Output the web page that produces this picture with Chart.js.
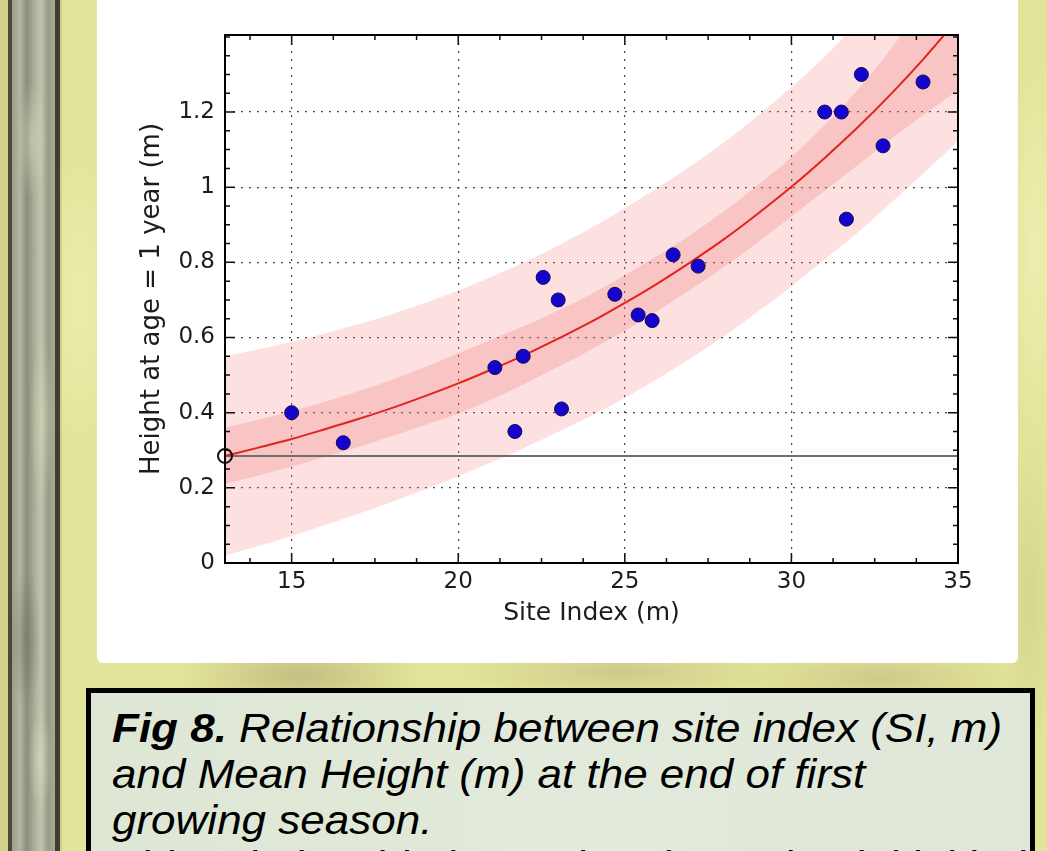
<!DOCTYPE html>
<html lang="en">
<head>
<meta charset="UTF-8">
<title>Fig 8 - Site index vs height</title>
<script src="https://cdn.jsdelivr.net/npm/chart.js"></script>
<style>
  html, body { margin: 0; padding: 0; }
  body {
    width: 1047px; height: 851px; overflow: hidden; position: relative;
    background: #e2e49a;
    font-family: "Liberation Sans", Arial, sans-serif;
  }
  .bg {
    position: absolute; left: 0; top: 0; width: 1047px; height: 851px;
    background:
      radial-gradient(ellipse 120px 40px at 300px 675px, rgba(170,160,110,0.55), transparent),
      radial-gradient(ellipse 160px 30px at 620px 672px, rgba(180,170,120,0.45), transparent),
      radial-gradient(ellipse 140px 35px at 880px 678px, rgba(175,165,115,0.4), transparent),
      radial-gradient(ellipse 40px 160px at 80px 300px, rgba(240,240,180,0.7), transparent),
      radial-gradient(ellipse 30px 200px at 1035px 250px, rgba(245,245,190,0.6), transparent),
      radial-gradient(ellipse 30px 160px at 1030px 600px, rgba(200,200,130,0.5), transparent),
      #e2e49a;
  }
  .bark {
    position: absolute; left: 0; top: 0; width: 62px; height: 851px;
    background:
      linear-gradient(90deg, #d2d28c 0, #d2d28c 8px, #4a4a3c 8px, #4a4a3c 12px, transparent 12px, transparent 55px, #3e3e32 55px, #3e3e32 60px, #cfd08a 60px),
      linear-gradient(90deg, #9c9e8a 12px, #b4b6a2 20px, #8c8e7c 27px, #aeb09c 35px, #c2c4ae 41px, #9a9c88 48px, #a8aa96 55px),
      #a0a290;
  }
  .bark::after {
    content: ""; position: absolute; left: 12px; top: 0; width: 43px; height: 851px;
    background:
      radial-gradient(ellipse 14px 60px at 20px 140px, rgba(220,225,190,0.5), transparent),
      radial-gradient(ellipse 12px 80px at 30px 420px, rgba(210,220,180,0.5), transparent),
      radial-gradient(ellipse 16px 70px at 14px 640px, rgba(90,92,80,0.35), transparent),
      radial-gradient(ellipse 12px 50px at 28px 760px, rgba(230,232,200,0.4), transparent);
  }
  .panel {
    position: absolute; left: 97px; top: -10px; width: 921px; height: 673px;
    background: #ffffff; border-radius: 6px;
  }
  .chart-box {
    position: absolute; left: 97px; top: 0; width: 921px; height: 663px;
  }
  .caption {
    position: absolute; left: 86px; top: 688px; width: 939px; height: 200px;
    border: 5px solid #000;
    background: linear-gradient(90deg, #dde7d4 0%, #e2eadb 50%, #dfe8d8 100%);
  }
  .caption p {
    margin: 0; padding: 12px 0 0 21px;
    font-size: 40px; line-height: 46px; font-style: italic; color: #000;
    white-space: nowrap;
    transform: scaleX(1.1); transform-origin: 21px 0;
  }
</style>
</head>
<body>
<div class="bg"></div>
<div class="bark"></div>
<div class="panel"></div>
<div class="chart-box"><canvas id="chart" width="921" height="663"></canvas></div>
<div class="caption">
  <p><b>Fig 8.</b> Relationship between site index (SI, m)<br>and Mean Height (m) at the end of first<br>growing season.<br>This relationship is used to determine initial height</p>
</div>

<script>
// observed points: site index (m) vs height at age 1 (m)
const siteIndex  = [15.0, 16.55, 21.1, 21.7, 21.95, 22.55, 23.0, 23.1, 24.7, 25.4, 25.82, 26.45, 27.2, 31.0, 31.5, 31.65, 32.1, 32.75, 33.95];
const meanHeight = [0.40, 0.32, 0.52, 0.35, 0.55, 0.76, 0.70, 0.41, 0.715, 0.66, 0.645, 0.82, 0.79, 1.20, 1.20, 0.915, 1.30, 1.11, 1.28];

// fitted curve and its bands
const fitX       = [13, 14, 15, 16, 17, 18, 19, 20, 21, 22, 23, 24, 25, 26, 27, 28, 29, 30, 31, 32, 33, 34, 35];
const fitY       = [0.285, 0.307, 0.330, 0.356, 0.383, 0.412, 0.444, 0.478, 0.515, 0.554, 0.597, 0.642, 0.692, 0.745, 0.802, 0.863, 0.930, 1.001, 1.078, 1.160, 1.249, 1.345, 1.448];
const innerUpper = [0.360, 0.381, 0.403, 0.429, 0.457, 0.487, 0.521, 0.558, 0.595, 0.631, 0.672, 0.716, 0.766, 0.818, 0.875, 0.937, 1.006, 1.080, 1.165, 1.260, 1.369, 1.495, 1.638];
const innerLower = [0.210, 0.233, 0.257, 0.283, 0.309, 0.337, 0.367, 0.398, 0.435, 0.477, 0.522, 0.568, 0.618, 0.672, 0.729, 0.789, 0.854, 0.922, 0.991, 1.060, 1.129, 1.195, 1.258];
const outerUpper = [0.550, 0.569, 0.588, 0.611, 0.635, 0.662, 0.692, 0.725, 0.762, 0.801, 0.845, 0.892, 0.944, 0.999, 1.058, 1.121, 1.191, 1.266, 1.348, 1.440, 1.539, 1.650, 1.773];
const outerLower = [0.020, 0.045, 0.072, 0.101, 0.131, 0.162, 0.196, 0.231, 0.268, 0.307, 0.349, 0.392, 0.440, 0.491, 0.546, 0.605, 0.669, 0.736, 0.808, 0.880, 0.959, 1.040, 1.123];

// reference line at the intercept
const refX = [13, 35];
const refY = [0.285, 0.285];
const originX = [13];
const originY = [0.285];

// axes
const xMin = 13, xMax = 35, yMin = 0, yMax = 1.405;
const xMajorTicks = [15, 20, 25, 30, 35];
const xMinorTicks = [13.75, 16.25, 17.5, 18.75, 21.25, 22.5, 23.75, 26.25, 27.5, 28.75, 31.25, 32.5, 33.75];
const yMajorTicks = [0, 0.2, 0.4, 0.6, 0.8, 1, 1.2];
const yMinorTicks = [0.05, 0.1, 0.15, 0.25, 0.3, 0.35, 0.45, 0.5, 0.55, 0.65, 0.7, 0.75, 0.85, 0.9, 0.95, 1.05, 1.1, 1.15, 1.25, 1.3, 1.35, 1.4];

const pts = (xs, ys) => xs.map((v, i) => ({ x: v, y: ys[i] }));

// matplotlib-style frame with inward ticks on all four sides
const frameTicks = {
  id: 'frameTicks',
  afterDatasetsDraw(chart) {
    const { ctx, chartArea: a, scales: { x, y } } = chart;
    ctx.save();
    ctx.strokeStyle = '#111';
    ctx.lineWidth = 1.5;
    ctx.beginPath();
    const xt = (v, len) => {
      const px = x.getPixelForValue(v);
      ctx.moveTo(px, a.bottom); ctx.lineTo(px, a.bottom - len);
      ctx.moveTo(px, a.top); ctx.lineTo(px, a.top + len);
    };
    const yt = (v, len) => {
      const py = y.getPixelForValue(v);
      ctx.moveTo(a.left, py); ctx.lineTo(a.left + len, py);
      ctx.moveTo(a.right, py); ctx.lineTo(a.right - len, py);
    };
    xMajorTicks.forEach(v => xt(v, 10));
    xMinorTicks.forEach(v => xt(v, 5));
    yMajorTicks.forEach(v => yt(v, 10));
    yMinorTicks.forEach(v => yt(v, 5));
    ctx.stroke();
    ctx.lineWidth = 2;
    ctx.strokeStyle = '#000';
    ctx.strokeRect(a.left, a.top, a.width, a.height);
    ctx.restore();
  }
};

const textColor = '#1c1c1c';

new Chart(document.getElementById('chart'), {
  type: 'scatter',
  data: {
    datasets: [
      {
        data: pts(siteIndex, meanHeight),
        backgroundColor: '#1604cc',
        borderColor: '#0c0c55',
        borderWidth: 1,
        pointRadius: 7,
        clip: false,
        order: 0
      },
      {
        data: pts(originX, originY),
        backgroundColor: 'rgba(0,0,0,0)',
        borderColor: '#111',
        borderWidth: 2,
        pointRadius: 7,
        clip: false,
        order: 1
      },
      {
        data: pts(fitX, fitY),
        showLine: true,
        borderColor: '#e3231f',
        borderWidth: 2,
        pointRadius: 0,
        cubicInterpolationMode: 'monotone',
        order: 2
      },
      {
        data: pts(refX, refY),
        showLine: true,
        borderColor: '#6e6e6e',
        borderWidth: 2,
        pointRadius: 0,
        order: 3
      },
      {
        data: pts(fitX, innerUpper),
        showLine: true,
        borderWidth: 0,
        borderColor: 'rgba(0,0,0,0)',
        pointRadius: 0,
        cubicInterpolationMode: 'monotone',
        fill: '+1',
        backgroundColor: 'rgba(226,96,96,0.22)',
        order: 4
      },
      {
        data: pts(fitX, innerLower),
        showLine: true,
        borderWidth: 0,
        borderColor: 'rgba(0,0,0,0)',
        pointRadius: 0,
        cubicInterpolationMode: 'monotone',
        order: 5
      },
      {
        data: pts(fitX, outerUpper),
        showLine: true,
        borderWidth: 0,
        borderColor: 'rgba(0,0,0,0)',
        pointRadius: 0,
        cubicInterpolationMode: 'monotone',
        fill: '+1',
        backgroundColor: 'rgba(246,114,114,0.22)',
        order: 6
      },
      {
        data: pts(fitX, outerLower),
        showLine: true,
        borderWidth: 0,
        borderColor: 'rgba(0,0,0,0)',
        pointRadius: 0,
        cubicInterpolationMode: 'monotone',
        order: 7
      }
    ]
  },
  options: {
    responsive: false,
    animation: false,
    events: [],
    layout: { padding: { top: 35, right: 60, left: 0, bottom: 0 } },
    plugins: {
      legend: { display: false },
      tooltip: { enabled: false }
    },
    scales: {
      x: {
        type: 'linear',
        min: xMin,
        max: xMax,
        afterBuildTicks: axis => { axis.ticks = xMajorTicks.map(v => ({ value: v })); },
        afterFit: axis => { axis.height = 100; },
        ticks: {
          color: textColor,
          padding: 5,
          maxRotation: 0,
          font: { family: 'DejaVu Sans', size: 23 },
          callback: v => String(v)
        },
        grid: { color: '#4a4a4a', lineWidth: 1.2, drawTicks: false },
        border: { display: false, dash: [2, 6] },
        title: {
          display: true,
          text: 'Site Index (m)',
          color: textColor,
          font: { family: 'DejaVu Sans', size: 25 },
          padding: { top: 0, bottom: 35 }
        }
      },
      y: {
        type: 'linear',
        min: yMin,
        max: yMax,
        afterBuildTicks: axis => { axis.ticks = yMajorTicks.map(v => ({ value: v })); },
        afterFit: axis => { axis.width = 128; },
        ticks: {
          color: textColor,
          padding: 10,
          font: { family: 'DejaVu Sans', size: 23 },
          callback: v => String(v)
        },
        grid: { color: '#4a4a4a', lineWidth: 1.2, drawTicks: false },
        border: { display: false, dash: [2, 6] },
        title: {
          display: true,
          text: 'Height at age = 1 year (m)',
          color: textColor,
          font: { family: 'DejaVu Sans', size: 26 },
          padding: { top: 40, bottom: 0 }
        }
      }
    }
  },
  plugins: [frameTicks]
});
</script>
</body>
</html>
